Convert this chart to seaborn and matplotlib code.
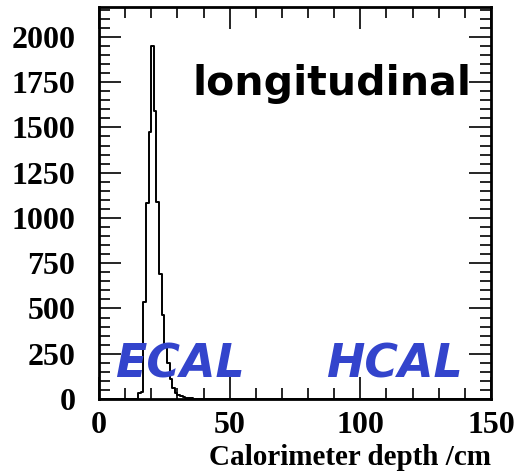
import numpy as np
import pandas as pd
import matplotlib
matplotlib.use("Agg")
import matplotlib.pyplot as plt
import seaborn as sns
from matplotlib.ticker import MultipleLocator

sns.set_theme(style="ticks")
plt.rcParams.update({"text.color": "black", "xtick.color": "black",
                     "ytick.color": "black", "axes.labelcolor": "black"})

# Data: 1 cm bins of calorimeter depth, counts per bin
bin_left = [15, 16, 17, 18, 19, 20, 21, 22, 23, 24, 25, 26, 27, 28, 29, 30,
            31, 32, 33, 34, 35, 36, 37, 38, 39, 40, 41, 42, 43, 44]
counts = [35, 40, 536, 1083, 1475, 1950, 1591, 1088, 690, 464, 300, 200, 110,
          60, 35, 22, 14, 9, 6, 4, 3, 2, 2, 1, 1, 1, 1, 1, 1, 1]
x_ticks = [0, 50, 100, 150]
y_ticks = [0, 250, 500, 750, 1000, 1250, 1500, 1750, 2000]

df = pd.DataFrame({"depth": np.array(bin_left) + 0.5, "n": counts})

fig = plt.figure(figsize=(5.17, 4.71), dpi=100)
ax = fig.add_axes([0.1915, 0.1529, 0.7582, 0.8322])

sns.histplot(data=df, x="depth", weights="n", binwidth=1, binrange=(0, 150),
             element="step", fill=False, color="black", linewidth=1.4, ax=ax)

ax.set_xlim(0, 150)
ax.set_ylim(0, 2165)
ax.set_xticks(x_ticks)
ax.set_yticks(y_ticks)
ax.xaxis.set_minor_locator(MultipleLocator(10))
ax.yaxis.set_minor_locator(MultipleLocator(50))
ax.tick_params(which="both", direction="in", top=True, right=True, width=1.2, color="black")
ax.tick_params(which="major", length=16)
ax.tick_params(which="minor", length=8)
ax.tick_params(axis="both", which="major", labelsize=23)
ax.tick_params(axis="x", which="major", pad=9)
ax.tick_params(axis="y", which="major", pad=17)
for lab in ax.get_xticklabels() + ax.get_yticklabels():
    lab.set_family("Liberation Serif")
    lab.set_fontweight("bold")
for s in ax.spines.values():
    s.set_linewidth(2)
    s.set_color("black")

ax.set_ylabel("")
ax.set_xlabel("Calorimeter depth /cm", family="Liberation Serif", fontweight="bold",
              fontsize=21, color="black")
ax.xaxis.set_label_coords(1.0, -0.115)
ax.xaxis.label.set_horizontalalignment("right")
ax.xaxis.label.set_verticalalignment("top")

ax.text(35.9, 1680, "longitudinal", family="DejaVu Sans",
        fontweight="bold", fontsize=29.5, color="black", ha="left", va="baseline")
ax.text(6.0, 116, "ECAL", family="DejaVu Sans",
        fontweight="bold", style="italic", fontsize=33, color="#3344cc",
        ha="left", va="baseline")
ax.text(87.0, 116, "HCAL", family="DejaVu Sans",
        fontweight="bold", style="italic", fontsize=33, color="#3344cc",
        ha="left", va="baseline")

fig.savefig("out.png", dpi=100)
